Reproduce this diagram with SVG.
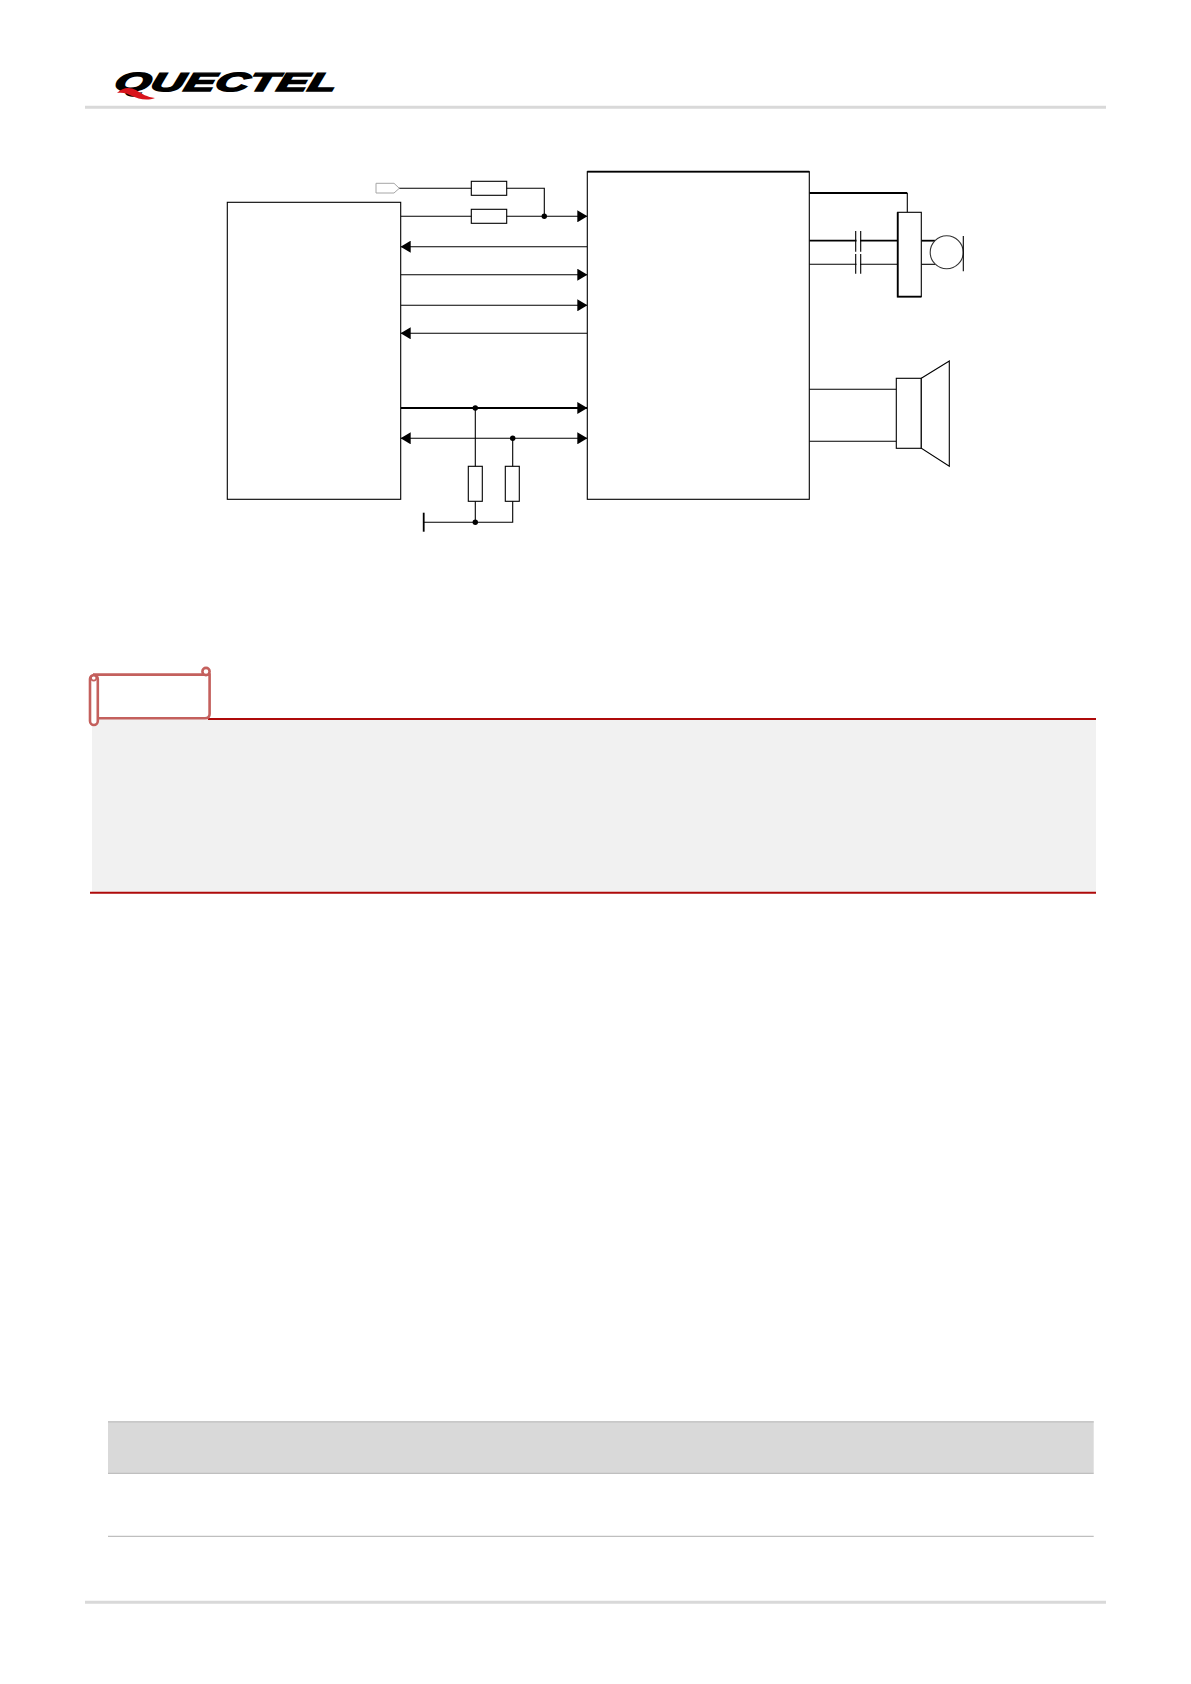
<svg xmlns="http://www.w3.org/2000/svg" width="1191" height="1684" viewBox="0 0 1191 1684">
<style>
.b{fill:#fff;stroke:#000;stroke-width:1.1}
.w{fill:none;stroke:#000;stroke-width:1.1}
.t{fill:none;stroke:#000;stroke-width:1.8}
.d{fill:#000}
.rule{fill:none;stroke:#d9d9d9;stroke-width:3}
.red{fill:none;stroke:#ae0a0a;stroke-width:2}
.scroll{fill:#fff;stroke:#c4605d;stroke-width:2.6}
</style>
<defs>
<marker id="ah" markerWidth="10" markerHeight="12" refX="10" refY="6" orient="auto-start-reverse" markerUnits="userSpaceOnUse"><path d="M0 0L10 6L0 12Z" fill="#000"/></marker>
</defs>
<rect width="1191" height="1684" fill="#fff"/>
<g id="header">
<text transform="translate(113 90.8) skewX(-14)" x="0" y="0" font-family="Liberation Sans, sans-serif" font-size="26" font-weight="700" font-style="italic" textLength="222" lengthAdjust="spacingAndGlyphs" fill="#000" stroke="#000" stroke-width="1.5">QUECTEL</text>
<path d="M117 93C123 87 130 87 136 90C142 94 147 97 155 98C147 101 138 99 132 96C127 93 122 92 117 93Z" fill="#d8141c"/>
<path class="rule" d="M85 107.3H1106"/>
</g>
<g id="connectors">
<path class="w" d="M399 188.3H544.3V216.3"/>
<path class="w" d="M400.7 216.3H587.3" marker-end="url(#ah)"/>
<path class="w" d="M587.3 246.7H400.7" marker-end="url(#ah)"/>
<path class="w" d="M400.7 274.7H587.3" marker-end="url(#ah)"/>
<path class="w" d="M400.7 305.3H587.3" marker-end="url(#ah)"/>
<path class="w" d="M587.3 333.3H400.7" marker-end="url(#ah)"/>
<path class="t" d="M400.7 408H587.3" marker-end="url(#ah)"/>
<path class="w" d="M400.7 438.3H587.3" marker-start="url(#ah)" marker-end="url(#ah)"/>
<path class="w" d="M475.3 408V522.3"/>
<path class="w" d="M512.7 438.3V522.3H423.7"/>
<path class="t" d="M423.7 512.7V531.7"/>
<circle class="d" cx="544.3" cy="216.3" r="2.7"/>
<circle class="d" cx="475.3" cy="408" r="2.7"/>
<circle class="d" cx="512.7" cy="438.3" r="2.7"/>
<circle class="d" cx="475.3" cy="522.3" r="2.7"/>
<path class="t" d="M809.3 193H907.3"/>
<path class="w" d="M907.3 193V212.3"/>
<path class="t" d="M809.3 240.7H897.7"/>
<path class="w" d="M809.3 264.3H897.7"/>
<path class="t" d="M921.3 240.7H935"/>
<path class="w" d="M921.3 264.3H935"/>
<path class="w" d="M809.3 389.3H896.3M809.3 441.3H896.3"/>
</g>
<g id="module-left"><rect class="b" x="227.3" y="202.3" width="173.4" height="297"/></g>
<g id="module-right">
<rect class="b" x="587.3" y="171.7" width="222" height="327.6"/>
<path class="t" d="M587.3 171.7H809.3"/>
</g>
<g id="port"><path d="M376 183.3H394L399.3 188.3L394 193H376Z" fill="#fff" stroke="#a6a6a6" stroke-width="1"/></g>
<g id="r1"><rect class="b" x="471.3" y="181.3" width="35.4" height="14"/></g>
<g id="r2"><rect class="b" x="471.3" y="209.3" width="35.4" height="14"/></g>
<g id="r3"><rect class="b" x="468.3" y="466.3" width="14" height="35"/></g>
<g id="r4"><rect class="b" x="505.3" y="466.3" width="14" height="35"/></g>
<g id="cap1">
<rect x="856.5" y="231" width="3.5" height="20.7" fill="#fff"/>
<path class="w" d="M855.7 231V251.7M860.7 231V251.7"/>
</g>
<g id="cap2">
<rect x="856.5" y="254" width="3.5" height="19.7" fill="#fff"/>
<path class="w" d="M855.7 254V273.7M860.7 254V273.7"/>
</g>
<g id="mic-block">
<rect class="b" x="897.7" y="212.3" width="23.6" height="84.4"/>
<path class="t" d="M897.7 212.3V296.7H921.3"/>
</g>
<g id="mic">
<circle cx="946.7" cy="252.3" r="16.5" fill="#fff" stroke="#333" stroke-width="1.1"/>
<path class="w" d="M963.3 236V271.3"/>
</g>
<g id="speaker">
<rect class="b" x="896.3" y="378.3" width="25" height="70"/>
<path class="b" d="M921.3 378.3L949.3 361V466.3L921.3 448.3Z"/>
</g>
<g id="note">
<rect x="92" y="719" width="1004" height="173.5" fill="#f1f1f1"/>
<path class="red" d="M208 719H1096M90 892.7H1096"/>
<path class="scroll" d="M93 674.6H209.6V714Q209.6 718.3 205 718.3H97.5"/>
<circle class="scroll" cx="206" cy="671.5" r="3.6"/>
<rect class="scroll" x="90" y="675" width="7.8" height="50" rx="3.9"/>
<circle cx="93.7" cy="678" r="2.6" fill="none" stroke="#c4605d" stroke-width="1.6"/>
</g>
<g id="table">
<rect x="108" y="1421.3" width="985.7" height="52" fill="#d9d9d9"/>
<path d="M108 1421.8H1093.7M108 1473.3H1093.7M108 1536.3H1093.7" fill="none" stroke="#bfbfbf" stroke-width="1.2"/>
</g>
<g id="footer"><path class="rule" d="M85 1602.3H1106"/></g>
</svg>
